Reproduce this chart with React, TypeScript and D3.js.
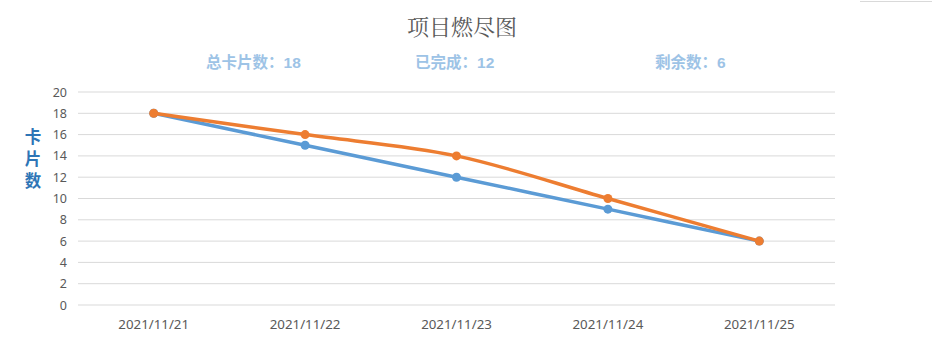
import React from "react";
import * as d3 from "d3";

const categories = ["2021/11/21", "2021/11/22", "2021/11/23", "2021/11/24", "2021/11/25"];
const planned = [18, 15, 12, 9, 6];
const actual = [18, 16, 14, 10, 6];
const yTicks = [0, 2, 4, 6, 8, 10, 12, 14, 16, 18, 20];
const summary = [
  { label: "总卡片数：", value: "18", x: 206 },
  { label: "已完成：", value: "12", x: 415 },
  { label: "剩余数：", value: "6", x: 655 },
];

export default function App() {
  const W = 932, H = 355;
  const left = 78, right = 835, top = 92, bottom = 305;
  const x = d3.scaleBand<string>().domain(categories).range([left, right]);
  const y = d3.scaleLinear().domain([0, 20]).range([bottom, top]);
  const cx = (c: string) => (x(c) as number) + x.bandwidth() / 2;
  const line = d3
    .line<number>()
    .x((_, i) => cx(categories[i]))
    .y((d) => y(d))
    .curve(d3.curveCatmullRom.alpha(0));
  const font = "'Noto Sans', sans-serif";
  const series = [
    { data: planned, color: "#5B9BD5" },
    { data: actual, color: "#ED7D31" },
  ];
  return (
    <svg
      width={W}
      height={H}
      style={{ position: "absolute", left: 0, top: 0, background: "#fff" }}
    >
      <line x1={860} x2={932} y1={1.5} y2={1.5} stroke="#d9d9d9" strokeWidth={1} />
      <text
        x={462}
        y={35}
        textAnchor="middle"
        fontSize={22}
        fill="#595959"
        fontFamily="'Noto Serif CJK SC', 'Noto Sans CJK SC', serif"
      >
        项目燃尽图
      </text>
      {summary.map((s) => (
        <text
          key={s.label}
          x={s.x}
          y={68}
          fontSize={15.5}
          fontWeight="bold"
          fill="#9DC3E6"
          fontFamily="'Noto Sans CJK SC', sans-serif"
        >
          {s.label}
          <tspan fontFamily="'Liberation Sans', sans-serif">{s.value}</tspan>
        </text>
      ))}
      {["卡", "片", "数"].map((ch, i) => (
        <text
          key={ch}
          x={33}
          y={143 + i * 22}
          textAnchor="middle"
          fontSize={16.5}
          fontWeight="bold"
          fill="#2E75B6"
          fontFamily="'Noto Sans CJK SC', sans-serif"
        >
          {ch}
        </text>
      ))}
      {yTicks.map((t) => (
        <g key={t}>
          <line x1={left} x2={right} y1={y(t)} y2={y(t)} stroke="#d9d9d9" strokeWidth={1} />
          <text
            x={67}
            y={y(t)}
            dy="0.36em"
            textAnchor="end"
            fontSize={12.5}
            fill="#595959"
            fontFamily={font}
          >
            {t}
          </text>
        </g>
      ))}
      {categories.map((c) => (
        <text
          key={c}
          x={cx(c)}
          y={329}
          textAnchor="middle"
          fontSize={13.3}
          fill="#595959"
          fontFamily={font}
        >
          {c}
        </text>
      ))}
      {series.map((s, k) => (
        <g key={k}>
          <path d={line(s.data) || ""} fill="none" stroke={s.color} strokeWidth={3.5} strokeLinecap="round" />
          {s.data.map((v, i) => (
            <circle key={i} cx={cx(categories[i])} cy={y(v)} r={4.5} fill={s.color} />
          ))}
        </g>
      ))}
    </svg>
  );
}
